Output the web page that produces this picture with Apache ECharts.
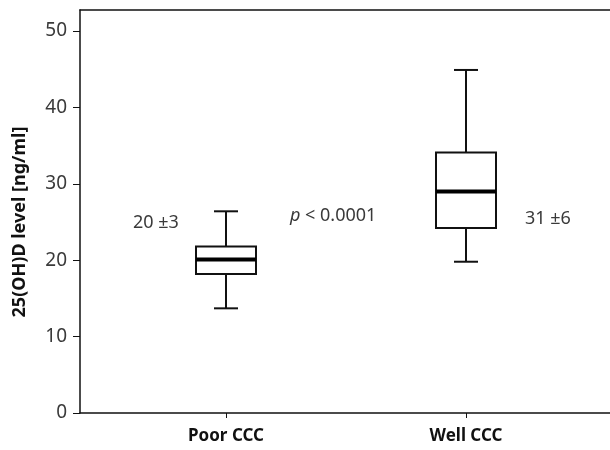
<!DOCTYPE html>
<html>
<head>
<meta charset="utf-8">
<script src="https://cdn.jsdelivr.net/npm/echarts@6/dist/echarts.min.js"></script>
<style>
  html, body { margin: 0; padding: 0; background: #fff; }
</style>
</head>
<body>
<div id="main" style="width: 610px;height:450px;"></div>
<script>
// groups on the x axis
var categories = ['Poor CCC', 'Well CCC'];
// [min, Q1, median, Q3, max]
var boxValues = [
  [13.7, 18.2, 20.1, 21.8, 26.4],
  [19.8, 24.2, 29.0, 34.1, 44.9]
];
var yTicks = [0, 10, 20, 30, 40, 50];
var meanLabels = ['20 ±3', '31 ±6'];
var pLabel = '< 0.0001';

var font = 'Noto Sans';
var chart = echarts.init(document.getElementById('main'));

function renderBox(params, api) {
  var idx = api.value(0);
  var lo = api.coord([idx, api.value(1)]);
  var q1 = api.coord([idx, api.value(2)]);
  var med = api.coord([idx, api.value(3)]);
  var q3 = api.coord([idx, api.value(4)]);
  var hi = api.coord([idx, api.value(5)]);
  var band = api.size([1, 0])[0];
  var x = lo[0];
  var bw = band * 0.25;
  var cw = band * 0.1;
  var line = { stroke: '#111', lineWidth: 2 };
  return {
    type: 'group',
    children: [
      { type: 'line', shape: { x1: x, y1: hi[1], x2: x, y2: q3[1] }, style: line },
      { type: 'line', shape: { x1: x, y1: q1[1], x2: x, y2: lo[1] }, style: line },
      { type: 'line', shape: { x1: x - cw / 2, y1: hi[1], x2: x + cw / 2, y2: hi[1] }, style: line },
      { type: 'line', shape: { x1: x - cw / 2, y1: lo[1], x2: x + cw / 2, y2: lo[1] }, style: line },
      { type: 'rect', shape: { x: x - bw / 2, y: q3[1], width: bw, height: q1[1] - q3[1] },
        style: { fill: '#fff', stroke: '#111', lineWidth: 2 } },
      { type: 'line', shape: { x1: x - bw / 2, y1: med[1], x2: x + bw / 2, y2: med[1] },
        style: { stroke: '#000', lineWidth: 4 } }
    ]
  };
}

var frameLine = { show: true, onZero: false, lineStyle: { color: '#111', width: 1.5 } };
var bare = { axisTick: { show: false }, axisLabel: { show: false }, splitLine: { show: false } };

var option = {
  animation: false,
  textStyle: { fontFamily: font },
  grid: [
    // frame: left, top and bottom lines (right side runs off the picture)
    { left: 80, right: -10, top: 10, bottom: 37, outerBoundsMode: 'none' },
    // y axis
    { left: 80, right: 0, top: 31, bottom: 37, outerBoundsMode: 'none' },
    // boxes
    { left: 106, right: 24, top: 31, bottom: 37, outerBoundsMode: 'none' }
  ],
  xAxis: [
    Object.assign({ gridIndex: 0, type: 'value', position: 'bottom', axisLine: frameLine }, bare),
    Object.assign({ gridIndex: 0, type: 'value', position: 'top', axisLine: frameLine }, bare),
    { gridIndex: 1, type: 'value', show: false },
    {
      gridIndex: 2, type: 'category', data: categories,
      axisLine: { show: false },
      axisTick: { show: true, alignWithLabel: true, length: 5, lineStyle: { color: '#111', width: 1 } },
      axisLabel: { fontFamily: font, fontSize: 17, fontWeight: 'bold', color: '#111', margin: 15 }
    }
  ],
  yAxis: [
    Object.assign({ gridIndex: 0, type: 'value', position: 'left', axisLine: frameLine }, bare),
    {
      gridIndex: 1, type: 'value', min: yTicks[0], max: yTicks[yTicks.length - 1], interval: 10,
      name: '25(OH)D level [ng/ml]', nameLocation: 'middle', nameGap: 51,
      nameTextStyle: { fontFamily: font, fontSize: 18, fontWeight: 'bold', color: '#111' },
      axisLine: { show: false },
      axisTick: { show: true, length: 7, lineStyle: { color: '#111', width: 1 } },
      axisLabel: { fontFamily: font, fontSize: 19, color: '#3a3a3a', margin: 13 },
      splitLine: { show: false }
    },
    { gridIndex: 2, type: 'value', min: 0, max: 50, show: false }
  ],
  series: [{
    type: 'custom',
    xAxisIndex: 3,
    yAxisIndex: 2,
    renderItem: renderBox,
    data: boxValues.map(function (b, i) { return [i].concat(b); })
  }],
  graphic: [
    { type: 'text', left: 133, top: 214,
      style: { text: meanLabels[0], fontFamily: font, fontSize: 18, fill: '#3a3a3a' } },
    { type: 'text', left: 290, top: 207,
      style: { text: '{i|p} ' + pLabel, fontFamily: font, fontSize: 18, fill: '#3a3a3a',
        rich: { i: { fontStyle: 'italic', fontFamily: font, fontSize: 18, fill: '#3a3a3a' } } } },
    { type: 'text', left: 525, top: 210,
      style: { text: meanLabels[1], fontFamily: font, fontSize: 18, fill: '#3a3a3a' } }
  ]
};
chart.setOption(option);
</script>
</body>
</html>
